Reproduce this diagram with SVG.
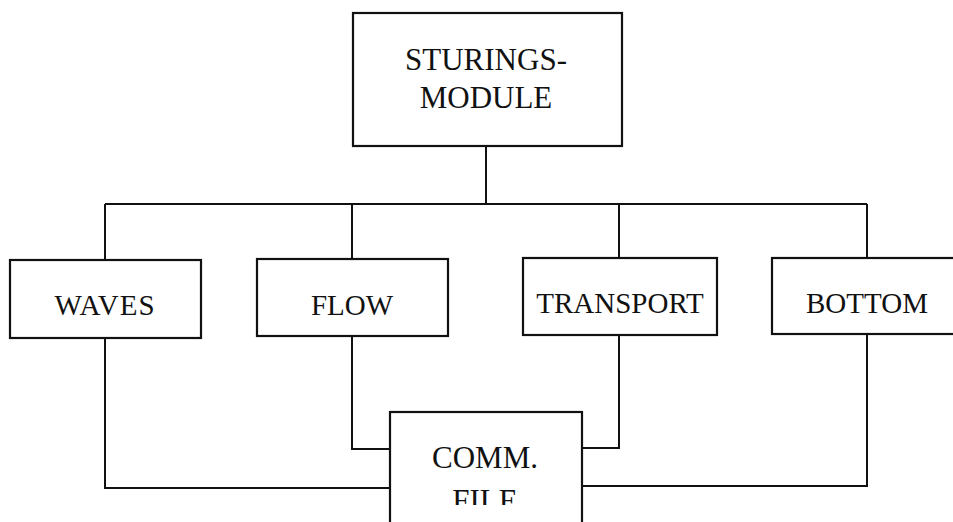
<svg xmlns="http://www.w3.org/2000/svg" width="953" height="522" viewBox="0 0 953 522">
<style>
.box{fill:#fff;stroke:#111;stroke-width:2.2}
.ln{fill:none;stroke:#111;stroke-width:2}
.t{font-family:"Liberation Serif","Times New Roman",serif;fill:#111;text-anchor:middle}
.big{font-size:31px}
.mid{font-size:29px}
</style>
<defs>
<clipPath id="cut"><rect x="0" y="0" width="953" height="505"/></clipPath>
</defs>
<rect width="953" height="522" fill="#fff"/>
<g id="connectors">
<path class="ln" d="M486 146V204M105 204H867M105 204V260M352 204V259M619 204V258M867 204V258"/>
<path class="ln" d="M105 338V488H390M352 336V449H390M619 335V448H582M867 334V486H582"/>
</g>
<g id="sturingsmodule">
<rect class="box" x="353" y="13" width="269" height="133"/>
<text class="t big" x="486" y="70">STURINGS-</text>
<text class="t big" x="486" y="108">MODULE</text>
</g>
<g id="waves">
<rect class="box" x="10" y="260" width="191" height="78"/>
<text class="t mid" x="105" y="315" letter-spacing="1">WAVES</text>
</g>
<g id="flow">
<rect class="box" x="257" y="259" width="191" height="77"/>
<text class="t mid" x="352" y="315">FLOW</text>
</g>
<g id="transport">
<rect class="box" x="523" y="258" width="194" height="77"/>
<text class="t mid" x="620" y="313">TRANSPORT</text>
</g>
<g id="bottom">
<rect class="box" x="772" y="258" width="190" height="76"/>
<text class="t mid" x="867" y="313">BOTTOM</text>
</g>
<g id="commfile">
<rect class="box" x="390" y="412" width="192" height="120"/>
<text class="t big" x="485" y="468">COMM.</text>
<text class="t big" x="485" y="511" clip-path="url(#cut)">FILE</text>
</g>
</svg>
